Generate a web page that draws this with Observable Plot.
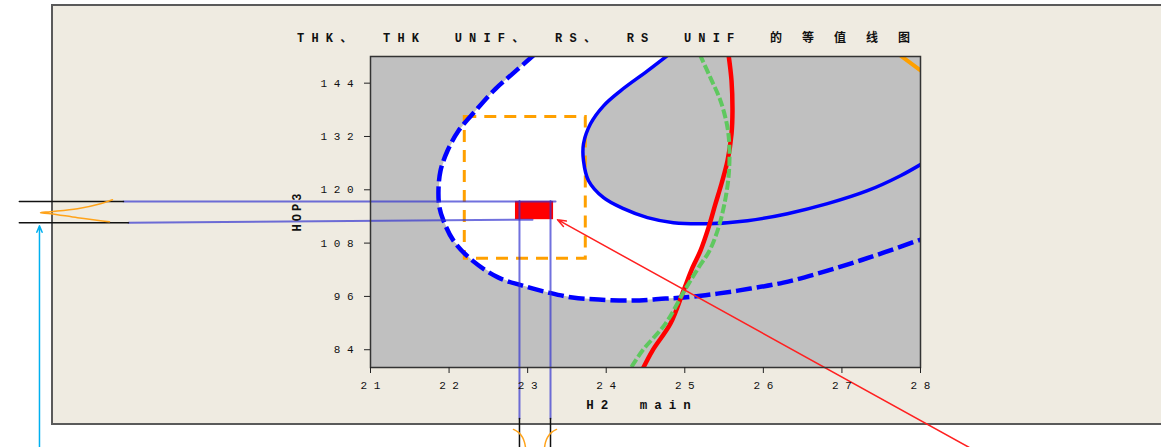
<!DOCTYPE html>
<html><head><meta charset="utf-8">
<script src="https://cdn.jsdelivr.net/npm/d3@7"></script>
<script src="https://cdn.jsdelivr.net/npm/@observablehq/plot@0.6"></script>
<style>
html,body{margin:0;padding:0;background:#fff;}
#wrap{position:relative;width:1161px;height:447px;overflow:hidden;background:#fff;}
#panel{position:absolute;left:51px;top:4px;width:1200px;height:421px;box-sizing:border-box;background:#efebe1;border:2px solid #5a5a5a;}
#chart{position:absolute;left:0;top:0;}
.lbl{position:absolute;font-family:"Liberation Mono",monospace;font-weight:bold;color:#111;white-space:pre;line-height:1;}
#title{left:297px;top:31px;font-size:12px;}
#title .lat{letter-spacing:7.2px;word-spacing:14px;}
#title .cm{letter-spacing:2.4px;font-family:"Noto Sans CJK SC",sans-serif;}
#title .cjk{letter-spacing:20px;font-family:"Noto Sans CJK SC",sans-serif;font-size:12px;}
#xlab{left:642px;top:400px;font-size:12.5px;letter-spacing:7px;word-spacing:10px;transform:translateX(-50%);}
#ylab{left:298px;top:211px;font-size:12px;letter-spacing:3px;transform:translate(-50%,-50%) rotate(-90deg);}
</style></head><body>
<div id="wrap">
  <div id="panel"></div>
  <div id="chart"></div>
  <div class="lbl" id="title"><span class="lat">THK</span><span class="cm">、</span><span class="lat"> THK UNIF</span><span class="cm">、</span><span class="lat"> RS</span><span class="cm">、</span><span class="lat"> RS UNIF </span><span class="cjk">的等值线图</span></div>
  <div class="lbl" id="xlab">H2 main</div>
  <div class="lbl" id="ylab">HOP3</div>
</div>
<script>
// ---- axis ticks ----
const xTicks = [21, 22, 23, 24, 25, 26, 27, 28];
const yTicks = [84, 96, 108, 120, 132, 144];
const xDomain = [21, 28];
const yDomain = [80, 150];

// ---- contour lines (H2 main, HOP3) ----
const outerDashed = [[23.09,150.5],[22.807,146.09],[22.591,142.72],[22.336,137.77],[22.12,133.27],[21.98,128.78],[21.891,124.28],[21.865,119.79],[21.878,115.97],[21.929,113.04],[22.056,108.55],[22.298,104.05],[22.629,100.23],[22.935,98.43],[23.265,96.86],[23.571,95.74],[23.902,95.29],[24.335,95.06],[24.755,95.51],[24.984,95.74],[25.416,96.63],[25.836,97.76],[26.256,99.11],[26.689,101.13],[27.109,103.38],[27.529,105.85],[28.05,109.1]];
const innerSolid = [[24.80,150.5],[24.525,146.76],[24.182,142.27],[23.966,138.9],[23.8,134.85],[23.711,130.35],[23.711,126.53],[23.775,122.04],[23.966,118.21],[24.22,115.74],[24.525,113.72],[24.856,112.59],[25.289,112.37],[25.798,113.04],[26.307,114.62],[26.816,116.87],[27.325,119.79],[27.745,123.16],[28.05,126.2]];
const redCurve = [[25.556,150.5],[25.595,144.51],[25.607,137.77],[25.595,132.6],[25.544,126.53],[25.467,121.36],[25.391,116.87],[25.302,111.47],[25.2,106.3],[25.098,102.48],[24.984,97.31],[24.818,89.89],[24.589,83.82],[24.46,79.5]];
const greenDashed = [[25.19,150.5],[25.327,145.19],[25.455,140.02],[25.544,133.95],[25.569,128.78],[25.556,122.71],[25.505,116.87],[25.429,111.47],[25.315,106.3],[25.175,102.48],[24.996,97.31],[24.755,89.89],[24.462,83.82],[24.30,79.5]];
const orangeCorner = [[27.70,150.8],[28.06,146.1]];

// ---- annotations ----
const orangeBox = [{x1: 22.2, x2: 23.74, y1: 104.5, y2: 136.4}];
const redBox = [{x1: 22.845, x2: 23.33, y1: 113.27, y2: 117.38}];
const blueLines = [
  [[17.856,117.38],[23.355,117.38]],
  [[17.92,112.59],[23.062,113.27]],
  [[22.896,117.5],[22.896,68.5]],
  [[23.291,117.5],[23.291,68.5]]
];
const blackLines = [
  [[16.53,117.38],[17.856,117.38]],
  [[16.53,112.59],[17.92,112.59]],
  [[22.896,68.5],[22.896,61.5]],
  [[23.291,68.5],[23.291,61.5]]
];
const orangeLeft = [[17.716,117.76],[17.564,116.87],[17.271,115.74],[16.927,115.07],[16.8,114.84],[16.927,114.62],[17.271,113.72],[17.564,113.04],[17.678,112.82]];
const orangeBottomL = [[22.82,66.06],[22.884,65.39],[22.935,64.26],[22.96,63.14],[22.973,62.0]];
const orangeBottomR = [[23.367,66.06],[23.304,65.39],[23.253,64.26],[23.227,63.14],[23.215,62.0]];
const cyanArrow = [{x1: 16.787, y1: 61.5, x2: 16.787, y2: 111.9}];
const redArrow = [{x1: 28.62, y1: 62.0, x2: 23.38, y2: 113.27}];

// white (feasible) region: inside outer contour, outside inner contour, left of red
const whitePoly = [...outerDashed.slice(0, 20), ...redCurve.slice(7, 11).reverse(), ...innerSolid.slice(0, 13).reverse()];

const px = d => d[0], py = d => d[1];
const spaced = d => String(d).split("").join(" ");
const tickFont = {fontFamily: "Liberation Mono", fontSize: 11, fill: "#111"};

const chart = Plot.plot({
  width: 1161, height: 447,
  marginLeft: 370, marginRight: 241, marginTop: 56, marginBottom: 80,
  style: {background: "transparent", color: "#222", overflow: "visible"},
  x: {domain: xDomain},
  y: {domain: yDomain},
  marks: [
    Plot.frame({fill: "#c0c0c0"}),
    Plot.line(whitePoly, {x: px, y: py, fill: "white", stroke: "none", clip: "frame"}),
    Plot.rect(orangeBox, {x1: "x1", x2: "x2", y1: "y1", y2: "y2", fill: "none", stroke: "#ffa000", strokeWidth: 3, strokeDasharray: "12,8"}),
    Plot.line(outerDashed, {x: px, y: py, stroke: "#0000ff", strokeWidth: 4.5, strokeDasharray: "16,5", strokeLinecap: "butt", curve: "catmull-rom", clip: "frame"}),
    Plot.line(innerSolid, {x: px, y: py, stroke: "#0000ff", strokeWidth: 3.5, curve: "catmull-rom", clip: "frame"}),
    Plot.line(redCurve, {x: px, y: py, stroke: "#ff0000", strokeWidth: 4.5, curve: "catmull-rom", clip: "frame"}),
    Plot.line(greenDashed, {x: px, y: py, stroke: "#5fc85f", strokeWidth: 4, strokeDasharray: "9,3", strokeLinecap: "butt", curve: "catmull-rom", clip: "frame"}),
    Plot.line(orangeCorner, {x: px, y: py, stroke: "#ffa000", strokeWidth: 4, clip: "frame"}),
    Plot.rect(redBox, {x1: "x1", x2: "x2", y1: "y1", y2: "y2", fill: "#ff0000"}),
    ...blueLines.map(l => Plot.line(l, {x: px, y: py, stroke: "#3434d0", strokeOpacity: 0.7, strokeWidth: 2})),
    ...blackLines.map(l => Plot.line(l, {x: px, y: py, stroke: "#111", strokeWidth: 1.5})),
    Plot.line(orangeLeft, {x: px, y: py, stroke: "#ffa31a", strokeWidth: 1.5, curve: "catmull-rom"}),
    Plot.line(orangeBottomL, {x: px, y: py, stroke: "#ffa31a", strokeWidth: 1.5, curve: "catmull-rom"}),
    Plot.line(orangeBottomR, {x: px, y: py, stroke: "#ffa31a", strokeWidth: 1.5, curve: "catmull-rom"}),
    Plot.arrow(cyanArrow, {x1: "x1", y1: "y1", x2: "x2", y2: "y2", stroke: "#00b0f0", strokeWidth: 1.5, headLength: 7, headAngle: 45}),
    Plot.arrow(redArrow, {x1: "x1", y1: "y1", x2: "x2", y2: "y2", stroke: "#ff2020", strokeWidth: 1.5, headLength: 9, headAngle: 40}),
    Plot.frame({stroke: "#333", strokeWidth: 1.5}),
    Plot.axisX({ticks: xTicks, tickFormat: spaced, tickSize: 6, tickPadding: 8, label: null, ...tickFont}),
    Plot.axisY({ticks: yTicks, tickFormat: spaced, tickSize: 6, tickPadding: 11, label: null, ...tickFont})
  ]
});
document.getElementById("chart").appendChild(chart);
</script>
</body></html>
